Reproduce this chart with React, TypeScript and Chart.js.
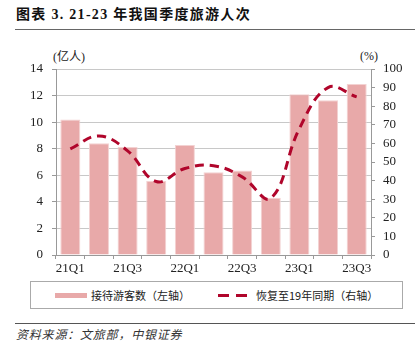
import React, { useEffect, useRef } from "react";
import { Chart, registerables } from "chart.js";

Chart.register(...registerables);

const categories = ["21Q1", "21Q2", "21Q3", "21Q4", "22Q1", "22Q2", "22Q3", "22Q4", "23Q1", "23Q2", "23Q3"];
const touristTrips = [10.2, 8.42, 8.12, 5.57, 8.28, 6.22, 6.36, 4.3, 12.1, 11.65, 12.87];
const recoveryPct = [57, 64, 56, 39.5, 46.5, 48, 42, 30.5, 68, 90, 85];
const leftTicks = { min: 0, max: 14, step: 2 };
const rightTicks = { min: 0, max: 100, step: 10 };

const SERIF = "'Liberation Serif', 'Times New Roman', serif";
const CJK = "'Liberation Serif', 'Noto Sans CJK SC', serif";

export default function App() {
  const ref = useRef<HTMLCanvasElement | null>(null);

  useEffect(() => {
    if (!ref.current) return;
    const chart = new Chart(ref.current, {
      type: "bar",
      data: {
        labels: categories,
        datasets: [
          {
            type: "line",
            label: "恢复至19年同期（右轴）",
            data: recoveryPct,
            yAxisID: "y1",
            borderColor: "#B0052B",
            borderWidth: 3,
            borderDash: [9, 6],
            pointRadius: 0,
            tension: 0.4,
            fill: false,
            order: 0,
          },
          {
            type: "bar",
            label: "接待游客数（左轴）",
            data: touristTrips,
            yAxisID: "y",
            backgroundColor: "#E8A9A9",
            borderColor: "#F3D2D2",
            borderWidth: 1,
            barPercentage: 0.7,
            categoryPercentage: 1,
            order: 1,
          },
        ],
      },
      options: {
        responsive: false,
        animation: false,
        layout: { padding: { top: 29, left: 0, right: 0, bottom: 0 } },
        plugins: { legend: { display: false }, tooltip: { enabled: false } },
        scales: {
          x: {
            offset: true,
            grid: { offset: true, drawOnChartArea: false, drawTicks: true, tickLength: 4, tickColor: "#999" },
            border: { color: "#999" },
            ticks: {
              autoSkip: false,
              maxRotation: 0,
              padding: 2,
              color: "#222",
              font: { family: SERIF, size: 13 },
              callback: (_v: any, i: number) => (i % 2 === 0 ? categories[i] : ""),
            },
            afterFit: (s: any) => {
              s.height = 25;
            },
          },
          y: {
            position: "left",
            min: leftTicks.min,
            max: leftTicks.max,
            ticks: { stepSize: leftTicks.step, padding: 9, color: "#222", font: { family: SERIF, size: 13 } },
            grid: { color: "#c8c8c8", tickLength: 4, tickColor: "#999" },
            border: { color: "#999" },
            afterFit: (s: any) => {
              s.width = 56;
            },
          },
          y1: {
            position: "right",
            min: rightTicks.min,
            max: rightTicks.max,
            ticks: { stepSize: rightTicks.step, padding: 8, color: "#222", font: { family: SERIF, size: 13 } },
            grid: { drawOnChartArea: false, tickLength: 4, tickColor: "#999" },
            border: { color: "#999" },
            afterFit: (s: any) => {
              s.width = 44;
            },
          },
        },
      },
    } as any);
    return () => chart.destroy();
  }, []);

  return (
    <div style={{ position: "fixed", left: 0, top: 0, width: 415, height: 357, background: "#fff", overflow: "hidden" }}>
      <div
        style={{
          position: "absolute",
          left: 16,
          top: 6,
          fontFamily: CJK,
          fontWeight: "bold",
          fontSize: 14,
          lineHeight: "18px",
          letterSpacing: 1.3,
          color: "#111",
          whiteSpace: "nowrap",
        }}
      >
        图表 3. 21-23 年我国季度旅游人次
      </div>
      <div style={{ position: "absolute", left: 15, right: 0, top: 29, height: 1, background: "#666" }} />
      <div style={{ position: "absolute", left: 53, top: 49, fontFamily: CJK, fontSize: 12, lineHeight: "16px", color: "#222" }}>
        (亿人)
      </div>
      <div style={{ position: "absolute", left: 360, top: 48, fontFamily: SERIF, fontSize: 12, lineHeight: "16px", color: "#222" }}>
        (%)
      </div>
      <canvas ref={ref} width={415} height={240} style={{ position: "absolute", left: 0, top: 40, width: 415, height: 240 }} />
      <div
        style={{
          position: "absolute",
          left: 30,
          top: 281,
          width: 371,
          height: 26,
          border: "1px solid #aaa",
          boxSizing: "content-box",
        }}
      >
        <div style={{ position: "absolute", left: 24, top: 11, width: 32, height: 5, background: "#E8A9A9" }} />
        <div style={{ position: "absolute", left: 60, top: 5, fontFamily: "'Noto Sans CJK SC', sans-serif", fontSize: 11, lineHeight: "16px", color: "#222", whiteSpace: "nowrap" }}>
          接待游客数（左轴）
        </div>
        <div style={{ position: "absolute", left: 187, top: 12, width: 11, height: 3, background: "#B0052B" }} />
        <div style={{ position: "absolute", left: 205, top: 12, width: 11, height: 3, background: "#B0052B" }} />
        <div style={{ position: "absolute", left: 225, top: 5, fontFamily: "'Noto Sans CJK SC', sans-serif", fontSize: 11, lineHeight: "16px", color: "#222", whiteSpace: "nowrap" }}>
          恢复至19年同期（右轴）
        </div>
      </div>
      <div style={{ position: "absolute", left: 15, right: 0, top: 323, height: 1, background: "#555" }} />
      <div
        style={{
          position: "absolute",
          left: 16,
          top: 326,
          fontFamily: "'Noto Sans CJK SC', sans-serif",
          fontStyle: "italic",
          fontSize: 12,
          lineHeight: "16px",
          letterSpacing: 0.8,
          color: "#333",
          whiteSpace: "nowrap",
        }}
      >
        资料来源：文旅部，中银证券
      </div>
    </div>
  );
}
